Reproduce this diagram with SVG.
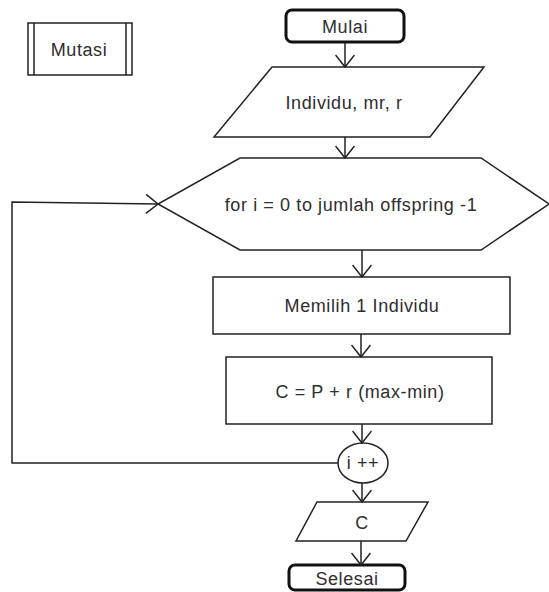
<svg xmlns="http://www.w3.org/2000/svg" width="549" height="592" viewBox="0 0 549 592">
  <style>
    .shape { fill: #ffffff; stroke: #222222; stroke-width: 1.5; }
    .term { fill: #ffffff; stroke: #111111; stroke-width: 3; }
    .label { font-family: "Liberation Sans", Arial, sans-serif; font-size: 18px; letter-spacing: 0.6px; fill: #2e2e2e; text-anchor: middle; }
    .wire { fill: none; stroke: #222222; stroke-width: 1.5; }
  </style>
  <defs>
    <marker id="vee" viewBox="0 0 20 20" refX="13" refY="10" markerWidth="20" markerHeight="20" markerUnits="userSpaceOnUse" orient="auto">
      <path d="M1 0.5 L13 10 L1 19.5" fill="none" stroke="#222222" stroke-width="1.5"/>
    </marker>
  </defs>
  <rect width="549" height="592" fill="#ffffff"/>

  <!-- predefined process: Mutasi -->
  <g id="mutasi">
    <rect class="shape" x="28" y="23" width="104" height="52"/>
    <line class="wire" x1="34" y1="23" x2="34" y2="75"/>
    <line class="wire" x1="126" y1="23" x2="126" y2="75"/>
    <text class="label" x="79" y="56">Mutasi</text>
  </g>

  <g id="mulai">
    <rect class="term" x="286" y="10" width="118" height="32" rx="6"/>
    <text class="label" x="345" y="33">Mulai</text>
  </g>

  <g id="input">
    <polygon class="shape" points="272,67 484,67 430,137 214,137"/>
    <text class="label" x="344" y="109">Individu, mr, r</text>
  </g>

  <g id="loop">
    <polygon class="shape" points="240,158 481,158 549,204 481,250 240,250 158,204"/>
    <text class="label" x="351" y="211">for i = 0 to jumlah offspring -1</text>
  </g>

  <g id="pilih">
    <rect class="shape" x="213" y="277" width="297" height="57"/>
    <text class="label" x="362" y="312">Memilih 1 Individu</text>
  </g>

  <g id="hitung">
    <rect class="shape" x="226" y="357" width="266" height="67"/>
    <text class="label" x="360" y="398">C = P + r (max-min)</text>
  </g>

  <g id="increment">
    <ellipse class="shape" cx="363" cy="463" rx="25" ry="20"/>
    <text class="label" x="363" y="469">i ++</text>
  </g>

  <g id="output">
    <polygon class="shape" points="317,502 428,502 406,541 296,541"/>
    <text class="label" x="362" y="529">C</text>
  </g>

  <g id="selesai">
    <rect class="term" x="289" y="565" width="116" height="25" rx="6"/>
    <text class="label" x="347" y="585">Selesai</text>
  </g>

  <g id="connectors">
    <line class="wire" x1="345" y1="42" x2="345" y2="67" marker-end="url(#vee)"/>
    <line class="wire" x1="345" y1="137" x2="345" y2="158" marker-end="url(#vee)"/>
    <line class="wire" x1="362" y1="250" x2="362" y2="277" marker-end="url(#vee)"/>
    <line class="wire" x1="361" y1="334" x2="361" y2="357" marker-end="url(#vee)"/>
    <line class="wire" x1="362" y1="424" x2="362" y2="443" marker-end="url(#vee)"/>
    <line class="wire" x1="362" y1="483" x2="362" y2="502" marker-end="url(#vee)"/>
    <line class="wire" x1="361" y1="541" x2="361" y2="565" marker-end="url(#vee)"/>
    <polyline class="wire" points="338,463 12,463 12,202 158,204" marker-end="url(#vee)"/>
  </g>
</svg>
